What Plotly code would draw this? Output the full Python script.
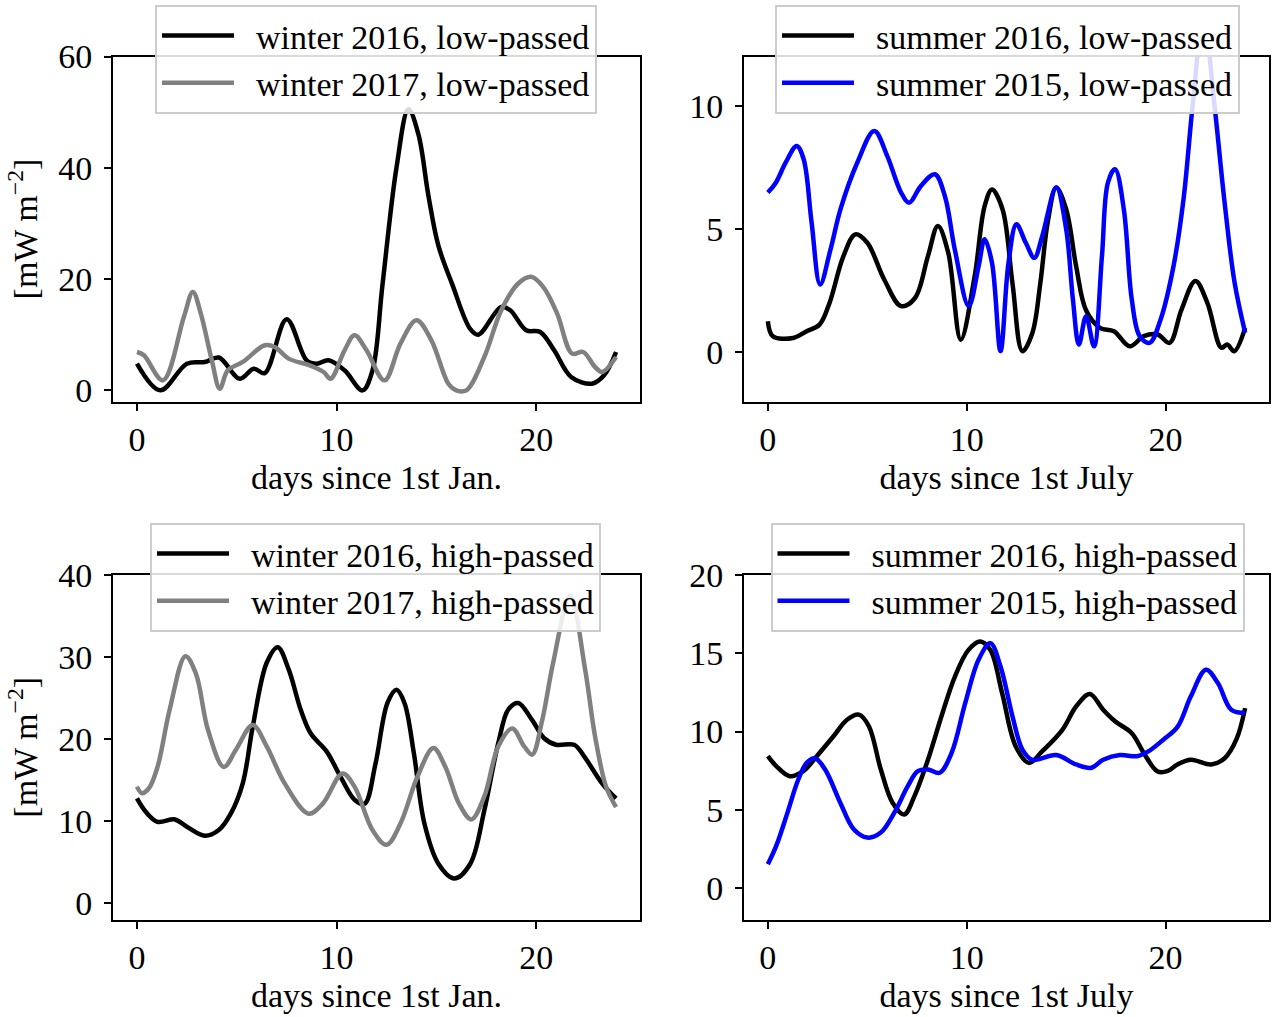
import plotly.graph_objects as go

# ---- winter, low-passed (days since 1st Jan.) ----
w16_lp_day = [0, 1.17, 2.5, 3.4, 4.1, 5.15, 5.85, 6.4, 7.5, 8.5, 9.0, 9.6, 10.4, 11.3, 11.8,
              12.3, 13.0, 13.6, 14.1, 14.6, 15.1, 15.8, 16.7, 17.1, 18.25, 18.7, 19.5, 20.2,
              20.9, 21.75, 22.8, 23.4, 24.0]
w16_lp_val = [4.8, 0.0, 4.8, 5.1, 5.9, 2.1, 3.9, 3.1, 12.8, 5.4, 4.8, 5.4, 3.6, 0.0, 3.6,
              19.0, 40.0, 50.5, 46.0, 35.0, 26.0, 19.0, 11.0, 10.0, 15.0, 14.4, 10.8, 10.5,
              7.2, 2.4, 1.2, 2.7, 6.9]

w17_lp_day = [0, 0.35, 1.3, 2.35, 2.8, 3.2, 3.75, 4.15, 4.55, 5.3, 6.4, 6.9, 7.6, 8.65, 9.35,
              9.7, 10.4, 10.9, 11.5, 12.4, 13.2, 14.0, 14.75, 15.6, 16.0, 16.5, 17.4, 18.25,
              19.1, 19.75, 20.35, 21.05, 21.8, 22.35, 22.95, 23.3, 24.0]
w17_lp_val = [6.9, 6.3, 1.8, 13.2, 17.7, 13.8, 5.4, 0.3, 3.6, 5.1, 8.1, 7.8, 5.7, 4.5, 3.3,
              2.1, 7.2, 9.9, 7.2, 1.8, 8.4, 12.6, 9.0, 1.2, 0.0, 0.0, 6.0, 14.4,
              19.2, 20.4, 18.6, 13.8, 6.6, 6.9, 4.2, 3.3, 6.0]

# ---- summer, low-passed (days since 1st July) ----
s16_lp_day = [0, 0.25, 1.27, 1.95, 2.6, 3.1, 3.8, 4.4, 5.0, 5.85, 6.7, 7.4, 8.05, 8.55, 9.07,
              9.7, 10.4, 10.9, 11.27, 11.8, 12.3, 12.8, 13.3, 13.7, 14.07, 14.5, 15.0, 15.5,
              16.0, 16.7, 17.4, 18.2, 18.9, 19.6, 20.2, 20.8, 21.5, 22.1, 22.8, 23.1, 23.45, 24.0]
s16_lp_val = [1.26, 0.65, 0.58, 0.85, 1.12, 2.0, 3.9, 4.78, 4.44, 2.95, 1.87, 2.2, 3.9, 5.12, 4.04,
              0.51, 3.09, 5.93, 6.6, 5.8, 2.8, 0.04, 0.78, 2.8, 5.26, 6.68, 5.8, 3.5,
              1.7, 0.99, 0.85, 0.24, 0.65, 0.72, 0.38, 1.73, 2.89, 2.0, 0.18, 0.31, 0.04, 0.99]

s15_lp_day = [0, 0.4, 0.9, 1.45, 1.8, 2.2, 2.63, 3.15, 3.65, 4.5, 5.35, 6.0, 6.7, 7.1, 7.7,
              8.4, 8.9, 9.4, 10.1, 10.6, 10.9, 11.27, 11.7, 12.1, 12.5, 12.97, 13.4, 13.8,
              14.5, 15.0, 15.34, 15.64, 16.0, 16.4, 16.8, 17.1, 17.46, 17.9, 18.3, 18.7, 19.2,
              19.75, 20.4, 20.9, 21.36, 21.9, 22.46, 22.95, 23.47, 24.0]
s15_lp_val = [6.48, 6.88, 7.7, 8.37, 7.83, 5.26, 2.75, 4.17, 5.8, 7.7, 8.98, 7.97, 6.48, 6.07, 6.75,
              7.22, 6.34, 4.17, 1.87, 3.5, 4.58, 3.63, 0.04, 3.63, 5.19, 4.44, 3.83, 4.72,
              6.68, 4.99, 2.14, 0.31, 1.46, 0.24, 3.9, 6.88, 7.43, 5.8, 2.14, 0.65, 0.38,
              1.33, 3.5, 6.2, 10.0, 13.6, 10.0, 6.2, 2.82, 0.79]

# ---- winter, high-passed ----
w16_hp_day = [0, 0.45, 1.03, 1.9, 2.5, 3.4, 4.1, 4.7, 5.3, 5.8, 6.5, 7.05, 7.6, 8.2, 8.7,
              9.5, 10.2, 10.9, 11.4, 11.95, 12.55, 13.0, 13.4, 13.87, 14.4, 15.1, 15.9, 16.7,
              17.4, 18.1, 18.6, 19.1, 19.8, 20.4, 21.0, 21.9, 22.4, 23.3, 24.0]
w16_hp_val = [12.76, 11.1, 9.9, 10.2, 9.3, 8.2, 8.9, 10.9, 14.6, 21.5, 29.3, 31.2, 28.5, 23.6, 20.7,
              18.5, 15.4, 12.6, 12.1, 17.0, 24.4, 26.0, 24.4, 18.3, 9.7, 4.8, 3.0, 4.8,
              11.3, 19.5, 23.6, 24.4, 22.3, 20.1, 19.3, 19.3, 17.9, 14.6, 12.76]

w17_hp_day = [0, 0.25, 0.6, 1.03, 1.64, 2.43, 2.95, 3.56, 4.35, 4.96, 5.8, 6.5, 7.4, 8.6, 9.3,
              10.3, 10.9, 11.8, 12.5, 13.2, 14.05, 14.85, 15.45, 16.14, 16.75, 17.4, 18.1,
              18.8, 19.4, 19.8, 20.3, 20.85, 21.7, 22.45, 22.95, 23.5, 24.0]
w17_hp_val = [14.2, 13.4, 14.0, 16.6, 23.6, 30.1, 28.0, 21.1, 16.6, 18.7, 21.7, 19.1, 14.6, 10.9, 12.1,
              15.8, 14.2, 8.9, 7.1, 9.7, 15.4, 18.9, 16.6, 12.1, 10.2, 13.0, 19.1,
              21.3, 19.1, 18.1, 22.3, 29.3, 37.5, 28.5, 20.3, 14.2, 11.7]

# ---- summer, high-passed ----
s16_hp_day = [0, 0.42, 1.1, 1.78, 2.46, 3.3, 3.98, 4.58, 5.08, 5.68, 6.27, 6.86, 7.37, 8.05, 8.73,
              9.4, 10.08, 10.68, 11.19, 11.78, 12.46, 13.14, 13.8, 14.8, 15.5, 16.19, 16.86,
              17.46, 18.3, 18.9, 19.58, 20.08, 20.6, 21.27, 22.3, 22.97, 23.56, 24.0]
s16_hp_val = [8.43, 7.8, 7.15, 7.47, 8.43, 9.7, 10.76, 11.08, 10.34, 7.58, 5.46, 4.71, 5.88, 8.2, 10.98,
              13.5, 15.2, 15.75, 15.2, 12.46, 9.07, 8.0, 8.75, 10.1, 11.6, 12.4, 11.4,
              10.66, 9.9, 8.64, 7.47, 7.47, 7.9, 8.2, 7.9, 8.3, 9.5, 11.5]

s15_hp_day = [0, 0.42, 0.93, 1.53, 1.95, 2.37, 2.88, 3.64, 4.32, 5.0, 5.68, 6.36, 7.03, 7.54, 8.05,
              8.64, 9.24, 9.92, 10.6, 11.19, 11.7, 12.3, 12.8, 13.3, 14.5, 15.5, 16.27, 16.86,
              17.7, 18.56, 19.15, 19.9, 20.6, 21.27, 22.03, 22.63, 23.3, 24.0]
s15_hp_val = [1.53, 2.7, 4.6, 6.94, 8.0, 8.3, 7.58, 5.46, 3.76, 3.23, 3.55, 4.82, 6.5, 7.47, 7.58,
              7.37, 8.64, 11.8, 14.6, 15.65, 14.16, 10.98, 8.85, 8.2, 8.5, 7.9, 7.69, 8.2,
              8.5, 8.43, 8.75, 9.5, 10.3, 12.25, 13.95, 13.1, 11.4, 11.2]

x_ticks = [0, 10, 20]
x_range = [-1.2, 25.2]
y_ranges = {1: [-2, 60], 2: [-2, 12], 3: [-2, 40], 4: [-2, 20]}
y_dticks = {1: 20, 2: 5, 3: 10, 4: 5}
x_titles = {1: "days since 1st Jan.", 2: "days since 1st July",
            3: "days since 1st Jan.", 4: "days since 1st July"}
y_title = "[mW m<sup>\u22122</sup>]"

FONT = "Liberation Serif"
FS = 34
BLACK, GREY, BLUE = "#000000", "#808080", "#0000ff"
LW = 4.5
GAP = "\u00a0\u00a0"  # small gap between legend sample line and its label

W, H = 1272, 1017
# panel edges in pixels: (left, right, top, bottom)
panels = {
    1: (113, 640, 56.5, 401.5),
    2: (744, 1269, 56.5, 401.5),
    3: (113, 640, 575, 919.5),
    4: (744, 1269, 575, 919.5),
}
# legend anchors (centre x, top y) in pixels
legend_pos = {1: (376, 5), 2: (1007.5, 5), 3: (375.5, 523), 4: (1007.5, 523)}

series = [
    (1, "winter 2016, low-passed", w16_lp_day, w16_lp_val, BLACK),
    (1, "winter 2017, low-passed", w17_lp_day, w17_lp_val, GREY),
    (2, "summer 2016, low-passed", s16_lp_day, s16_lp_val, BLACK),
    (2, "summer 2015, low-passed", s15_lp_day, s15_lp_val, BLUE),
    (3, "winter 2016, high-passed", w16_hp_day, w16_hp_val, BLACK),
    (3, "winter 2017, high-passed", w17_hp_day, w17_hp_val, GREY),
    (4, "summer 2016, high-passed", s16_hp_day, s16_hp_val, BLACK),
    (4, "summer 2015, high-passed", s15_hp_day, s15_hp_val, BLUE),
]

fig = go.Figure()
for p, name, xs, ys, col in series:
    sfx = "" if p == 1 else str(p)
    fig.add_trace(go.Scatter(
        x=xs, y=ys, name=GAP + name, mode="lines",
        line=dict(color=col, width=LW, shape="spline", smoothing=1.0),
        xaxis="x" + sfx, yaxis="y" + sfx,
        legend="legend" + sfx,
    ))

layout = dict(
    width=W, height=H,
    margin=dict(l=0, r=0, t=0, b=0, autoexpand=False),
    paper_bgcolor="white", plot_bgcolor="white",
    font=dict(family=FONT, size=FS, color="black"),
    showlegend=True,
)

axis_common = dict(
    showgrid=False, zeroline=False, automargin=False,
    showline=True, linecolor="black", linewidth=2, mirror=True,
    ticks="outside", ticklen=7, tickwidth=1.6, tickcolor="black",
    tickfont=dict(family=FONT, size=FS, color="black"),
)

for p, (l, r, t, b) in panels.items():
    sfx = "" if p == 1 else str(p)
    layout["xaxis" + sfx] = dict(
        axis_common,
        domain=[l / W, r / W], range=x_range,
        tickmode="array", tickvals=x_ticks,
        anchor="y" + sfx,
        title=dict(text=x_titles[p], font=dict(family=FONT, size=FS), standoff=8),
    )
    ydict = dict(
        axis_common,
        domain=[1 - b / H, 1 - t / H], range=y_ranges[p],
        tick0=0, dtick=y_dticks[p], ticklabelstandoff=5,
        anchor="x" + sfx,
    )
    if p in (1, 3):
        ydict["title"] = dict(text=y_title, font=dict(family=FONT, size=FS), standoff=10)
    layout["yaxis" + sfx] = ydict

    cx, ty = legend_pos[p]
    layout["legend" + sfx] = dict(
        x=cx / W, y=1 - ty / H, xanchor="center", yanchor="top",
        bgcolor="rgba(255,255,255,0.85)", bordercolor="#cccccc", borderwidth=2,
        font=dict(family=FONT, size=FS, color="black"),
        itemwidth=72, tracegroupgap=0,
    )

fig.update_layout(**layout)
fig.write_html("out.html")
